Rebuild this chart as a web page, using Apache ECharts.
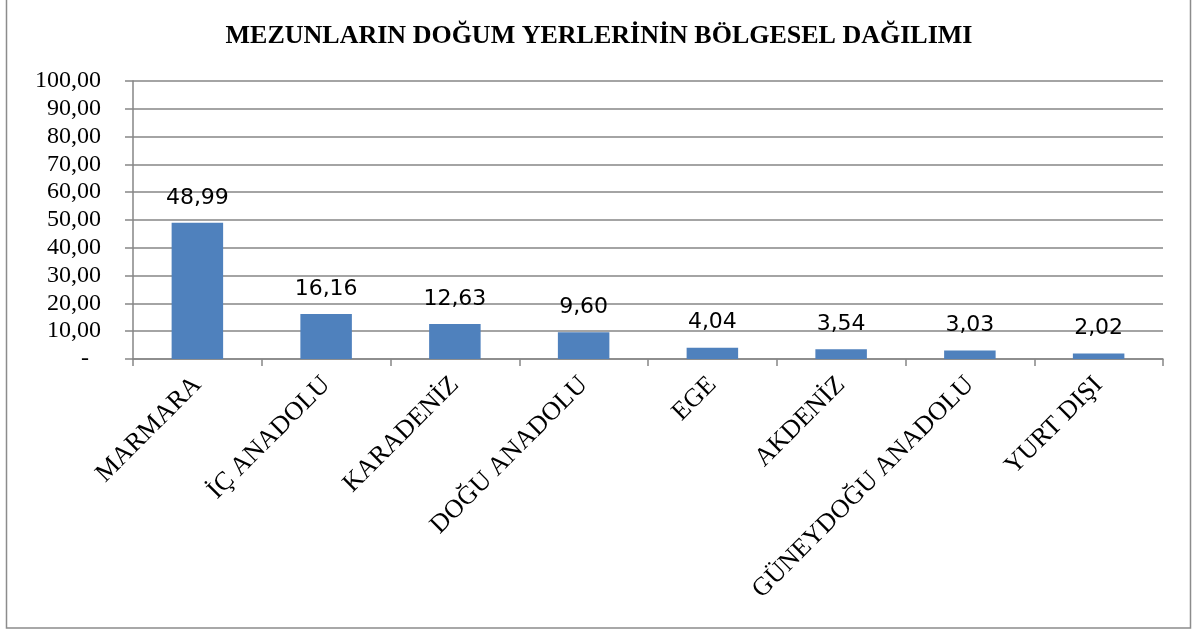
<!DOCTYPE html>
<html>
<head>
<meta charset="utf-8">
<script src="https://cdn.jsdelivr.net/npm/echarts@6/dist/echarts.min.js"></script>
<style>
  html, body { margin: 0; padding: 0; background: #fff; }
  #chart { width: 1198px; height: 633px; }
</style>
</head>
<body>
<div id="chart"></div>
<script>
const regions = ['MARMARA', 'İÇ ANADOLU', 'KARADENİZ', 'DOĞU ANADOLU', 'EGE', 'AKDENİZ', 'GÜNEYDOĞU ANADOLU', 'YURT DIŞI']
const shares = [48.99, 16.16, 12.63, 9.60, 4.04, 3.54, 3.03, 2.02]
const yMin = 0
const yMax = 100
const yStep = 10

const fmt = v => v.toFixed(2).replace('.', ',')

const chart = echarts.init(document.getElementById('chart'))
chart.setOption({
  animation: false,
  backgroundColor: '#fff',
  title: {
    text: 'MEZUNLARIN DOĞUM YERLERİNİN BÖLGESEL DAĞILIMI',
    left: 'center',
    top: 18,
    textStyle: {
      fontFamily: 'Liberation Serif',
      fontWeight: 'bold',
      fontSize: 26,
      color: '#000'
    }
  },
  graphic: [{
    type: 'rect',
    shape: { x: 6.5, y: -2, width: 1184, height: 630 },
    style: { fill: 'none', stroke: '#8c8c8c', lineWidth: 1.5 }
  }],
  grid: { left: 133, right: 35, top: 81, bottom: 274 },
  xAxis: {
    type: 'category',
    data: regions,
    axisLine: { lineStyle: { color: '#868686', width: 1.5 } },
    axisTick: { show: true, length: 7, lineStyle: { color: '#868686', width: 1.5 } },
    axisLabel: {
      rotate: 45,
      margin: 22,
      interval: 0,
      fontFamily: 'Liberation Serif',
      fontSize: 26,
      color: '#000'
    }
  },
  yAxis: {
    type: 'value',
    min: yMin,
    max: yMax,
    interval: yStep,
    axisLine: { show: true, lineStyle: { color: '#868686', width: 1.5 } },
    axisTick: { show: true, length: 8, lineStyle: { color: '#868686', width: 1.5 } },
    splitLine: { lineStyle: { color: '#868686', width: 1.5 } },
    axisLabel: {
      margin: 32,
      fontFamily: 'Liberation Serif',
      fontSize: 24,
      color: '#000',
      formatter: v => v === 0 ? '-  ' : fmt(v)
    }
  },
  series: [{
    type: 'bar',
    data: shares,
    barWidth: '40%',
    itemStyle: { color: '#4f81bd' },
    label: {
      show: true,
      position: 'top',
      distance: 14,
      fontFamily: 'DejaVu Sans',
      fontSize: 22,
      color: '#000',
      formatter: p => fmt(p.value)
    }
  }]
})
</script>
</body>
</html>
